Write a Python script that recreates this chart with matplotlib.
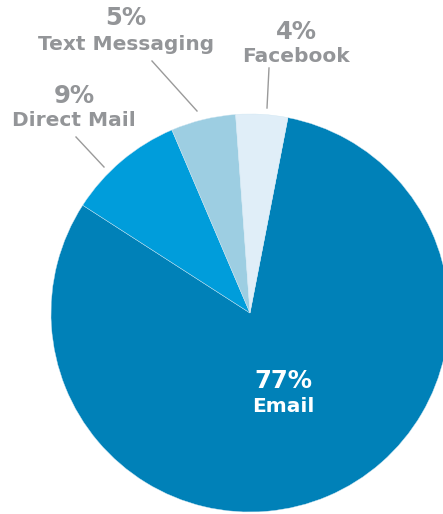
import matplotlib
matplotlib.use("Agg")
import matplotlib.pyplot as plt

categories = ["Email", "Direct Mail", "Text Messaging", "Facebook"]
values = [77, 9, 5, 4]
pct_labels = ["77%", "9%", "5%", "4%"]
colors = ["#0081B8", "#009DDB", "#9DCEE2", "#E0EEF8"]

W, H = 443, 514
fig = plt.figure(figsize=(W / 100, H / 100), dpi=100)
ax = fig.add_axes([0, 0, 1, 1])

def Y(py):
    return H - py

ax.pie(values, colors=colors, startangle=79, counterclock=False,
       center=(250, Y(313)), radius=199, frame=True,
       wedgeprops=dict(linewidth=0.3, edgecolor="#cfe6f2"))
ax.set_xlim(0, W)
ax.set_ylim(0, H)
ax.set_aspect("equal")
ax.axis("off")

gray = "#939598"
font = "DejaVu Sans"

# Outer labels: x, pct_y, name_y
outer = {
    "Text Messaging": (126, 18, 44),
    "Facebook": (296, 32, 57),
    "Direct Mail": (74, 96, 120),
}
for cat, pct in zip(categories, pct_labels):
    if cat in outer:
        x, yp, yn = outer[cat]
        ax.text(x, Y(yp), pct, ha="center", va="center", color=gray,
                fontsize=17.5, fontweight="bold", family=font)
        ax.text(x, Y(yn), cat, ha="center", va="center", color=gray,
                fontsize=14.5, fontweight="bold", family=font)

# leader lines
lines = [((152, 61), (197, 111)), ((269, 68), (267, 108)), ((76, 137), (104, 167))]
for (x0, y0), (x1, y1) in lines:
    ax.plot([x0, x1], [Y(y0), Y(y1)], color="#9a9a9a", lw=1.0)

ax.text(283, Y(381), pct_labels[0], ha="center", va="center", color="white",
        fontsize=17.5, fontweight="bold", family=font)
ax.text(283, Y(406), categories[0], ha="center", va="center", color="white",
        fontsize=14.5, fontweight="bold", family=font)

fig.savefig("out.png", dpi=100)
